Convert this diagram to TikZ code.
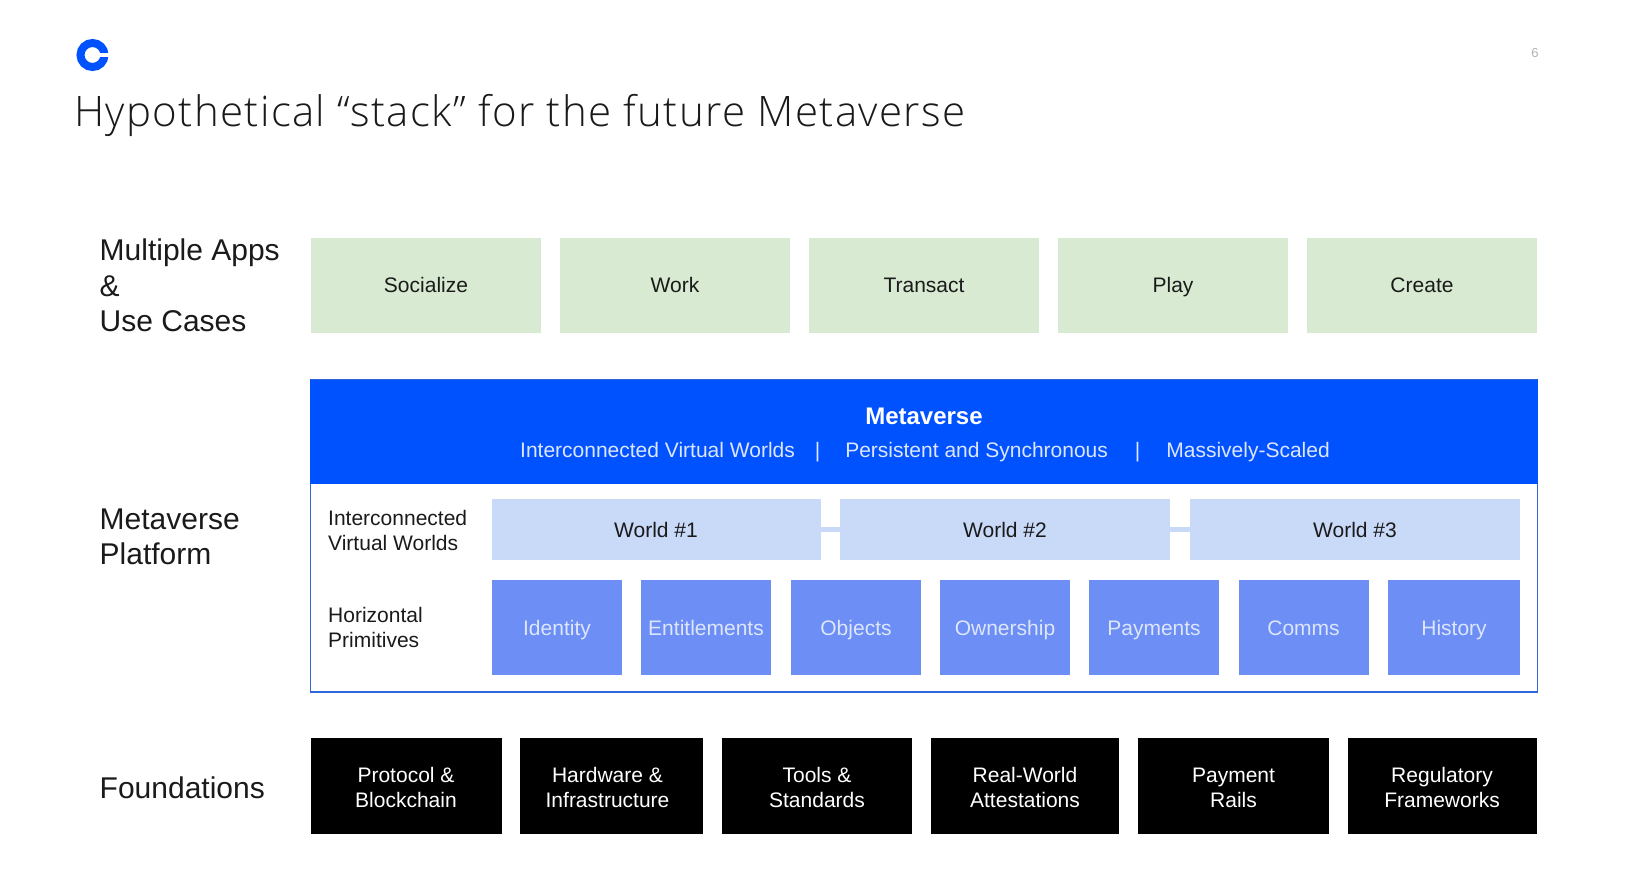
\documentclass[tikz,border=0pt]{standalone}
\usepackage{fontspec}
\setmainfont{Liberation Sans}
\newfontfamily\titlefont{Open Sans}[UprightFont=* Light,LetterSpace=3.25]
\definecolor{inkblack}{HTML}{1A1A1A}
\definecolor{logoblue}{HTML}{0052FF}
\definecolor{appgreen}{HTML}{D9EAD3}
\definecolor{worldblue}{HTML}{C9DAF8}
\definecolor{primblue}{HTML}{6C8EF5}
\definecolor{primtext}{HTML}{DDE6FC}
\definecolor{framepale}{HTML}{2F66DC}

\begin{document}
\begin{tikzpicture}[x=1pt,y=-1pt]
\tikzstyle{every node}+=[inner sep=0pt,text=inkblack]
\tikzstyle{boxtext}=[font=\fontsize{21}{25}\selectfont,align=center]
\tikzstyle{appbox}=[boxtext,fill=appgreen,minimum width=230pt,minimum height=95pt,text height=17pt,text depth=2pt]
\tikzstyle{worldbox}=[boxtext,fill=worldblue,minimum height=61pt,text height=17pt,text depth=2pt]
\tikzstyle{primbox}=[boxtext,fill=primblue,text=primtext,minimum height=95pt,minimum width=130pt,text height=17pt,text depth=2pt]
\tikzstyle{basebox}=[boxtext,fill=black,text=white,minimum height=96pt,text height=45pt,text depth=2pt]
\tikzstyle{rowlabel}=[anchor=west,align=left,font=\fontsize{30}{35.6}\selectfont]
\tikzstyle{sublabel}=[anchor=west,align=left,font=\fontsize{21}{25}\selectfont]
\useasboundingbox (0,0) rectangle (1642,883);
% header
\node [circle,draw=logoblue,line width=8pt,minimum size=24pt] (logo) at (92.5,55) {};
\fill [white] (100,53) rectangle (111,57);
\node [anchor=base west,font=\titlefont\fontsize{42}{50}\selectfont] (title) at (74,126) {Hypothetical “stack” for the future Metaverse};
\node [font=\fontsize{13}{15}\selectfont,text=black!30] (pagenum) at (1535,53.5) {6};
% apps
\node [rowlabel] (appslabel) at (99.5,285.5) {Multiple Apps\\\&\\Use Cases};
\node [appbox] (socialize) at (426,285) {Socialize};
\node [appbox] (work) at (675,285) {Work};
\node [appbox] (transact) at (924,285) {Transact};
\node [appbox] (play) at (1173,285) {Play};
\node [appbox] (create) at (1422,285) {Create};
% platform
\node [rowlabel] (platlabel) at (99.5,537) {Metaverse\\Platform};
\node [draw=framepale,line width=1.5pt,minimum width=1227pt,minimum height=312pt] (frame) at (924,536) {};
\node [fill=logoblue,minimum width=1228pt,minimum height=104pt] (banner) at (924,432) {};
\node [font=\bfseries\fontsize{24}{28}\selectfont,text=white] (bannertitle) at (924,416) {Metaverse};
\node [font=\fontsize{21}{25}\selectfont,text=primtext] (bannersub) at (925,452) {Interconnected Virtual Worlds\hspace{20pt}|\hspace{25pt}Persistent and Synchronous\hspace{27pt}|\hspace{26pt}Massively-Scaled};
\node [sublabel] (worldlabel) at (328,530) {Interconnected\\Virtual Worlds};
\node [worldbox,minimum width=329pt] (world1) at (656,529.5) {World \#1};
\node [worldbox,minimum width=330pt] (world2) at (1005,529.5) {World \#2};
\node [worldbox,minimum width=330pt] (world3) at (1355,529.5) {World \#3};
\draw [worldblue,line width=5pt] (world1) -- (world2);
\draw [worldblue,line width=5pt] (world2) -- (world3);
\node [sublabel] (primlabel) at (328,627) {Horizontal\\Primitives};
\node [primbox] (identity) at (557,627.5) {Identity};
\node [primbox] (entitle) at (706,627.5) {Entitlements};
\node [primbox] (objects) at (856,627.5) {Objects};
\node [primbox] (ownership) at (1005,627.5) {Ownership};
\node [primbox] (payments) at (1154,627.5) {Payments};
\node [primbox] (comms) at (1303.5,627.5) {Comms};
\node [primbox,minimum width=132pt] (history) at (1454,627.5) {History};
% foundations
\node [rowlabel] (baselabel) at (99.5,788) {Foundations};
\node [basebox,minimum width=191pt] (protocol) at (406,786) {Protocol \&\\Blockchain};
\node [basebox,minimum width=183pt] (hardware) at (611.5,786) {Hardware \&\hspace*{8pt}\\Infrastructure\hspace*{8pt}};
\node [basebox,minimum width=189.5pt] (tools) at (817,786) {Tools \&\\Standards};
\node [basebox,minimum width=188pt] (realworld) at (1025,786) {Real-World\\Attestations};
\node [basebox,minimum width=191pt] (rails) at (1233.5,786) {Payment\\Rails};
\node [basebox,minimum width=189pt] (regulatory) at (1442,786) {Regulatory\\Frameworks};
\end{tikzpicture}
\end{document}
